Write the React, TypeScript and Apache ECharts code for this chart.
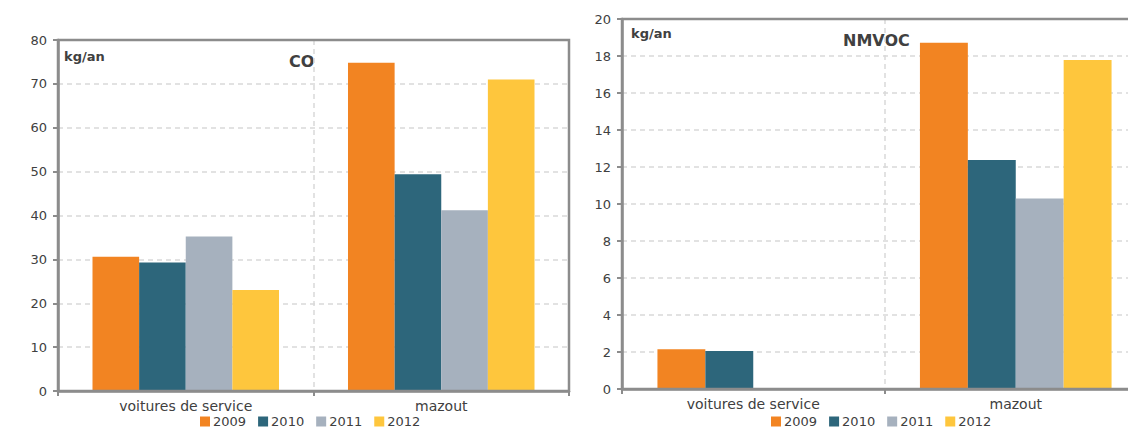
import React, { useEffect, useRef } from "react";
import * as echarts from "echarts";

const categories = ["voitures de service", "mazout"];
const years = ["2009", "2010", "2011", "2012"];
const colors = ["#F28422", "#2D667B", "#A6B1BE", "#FEC63D"];

// CO (kg/an) per year: [voitures de service, mazout]
const co2009 = [30.6, 74.8];
const co2010 = [29.3, 49.4];
const co2011 = [35.2, 41.2];
const co2012 = [23.0, 71.0];

// NMVOC (kg/an) per year
const nm2009 = [2.15, 18.72];
const nm2010 = [2.05, 12.38];
const nm2011 = [0, 10.3];
const nm2012 = [0, 17.78];

const coTicks = { min: 0, max: 80, interval: 10 };
const nmTicks = { min: 0, max: 20, interval: 2 };

const FONT = "DejaVu Sans";
const AXIS = "#8c8c8c";
const TXT = "#404040";

export default function App() {
  const ref = useRef<HTMLDivElement>(null);
  useEffect(() => {
    if (!ref.current) return;
    const chart = echarts.init(ref.current, undefined, { renderer: "svg" });
    const coData = [co2009, co2010, co2011, co2012];
    const nmData = [nm2009, nm2010, nm2011, nm2012];

    const xAxisBase = (gridIndex: number) => ({
      type: "category",
      gridIndex,
      data: categories,
      axisLine: { lineStyle: { color: AXIS, width: 2.5 } },
      axisTick: { show: true, length: 5, lineStyle: { color: AXIS, width: 2 } },
      axisLabel: { color: TXT, fontSize: 14, fontFamily: FONT, margin: 8 },
      splitLine: { show: true, lineStyle: { color: "#d9d9d9", type: [5, 4], width: 1.5 } },
    });
    const yAxisBase = (gridIndex: number, t: any) => ({
      type: "value",
      gridIndex,
      min: t.min,
      max: t.max,
      interval: t.interval,
      axisLine: { show: true, lineStyle: { color: AXIS, width: 2.5 } },
      axisTick: { show: true, length: 5, lineStyle: { color: AXIS, width: 2 } },
      axisLabel: { color: TXT, fontSize: 13, fontFamily: FONT, margin: 11 },
      splitLine: { show: true, lineStyle: { color: "#d9d9d9", type: [5, 4], width: 1.5 } },
    });

    const series: any[] = [];
    years.forEach((y, i) => {
      series.push({
        name: y,
        type: "bar",
        xAxisIndex: 0,
        yAxisIndex: 0,
        data: coData[i],
        itemStyle: { color: colors[i] },
        barGap: "0%",
        barCategoryGap: "27%",
      });
    });
    years.forEach((y, i) => {
      series.push({
        name: y,
        type: "bar",
        xAxisIndex: 1,
        yAxisIndex: 1,
        data: nmData[i],
        itemStyle: { color: colors[i] },
        barGap: "0%",
        barCategoryGap: "27%",
      });
    });

    const legendBase = {
      data: years,
      itemWidth: 10,
      itemHeight: 10,
      itemGap: 12,
      icon: "rect",
      textStyle: { color: TXT, fontSize: 13, fontFamily: FONT, padding: [0, 0, 0, -2] },
    };

    chart.setOption({
      animation: false,
      backgroundColor: "#ffffff",
      grid: [
        {
          left: 58, top: 40, width: 511, height: 351, z: 5,
          outerBoundsMode: "none",
          show: true, borderColor: AXIS, borderWidth: 2.5, backgroundColor: "transparent",
        },
        {
          left: 622, top: 19, width: 525, height: 370, z: 5,
          outerBoundsMode: "none",
          show: true, borderColor: AXIS, borderWidth: 2.5, backgroundColor: "transparent",
        },
      ],
      xAxis: [xAxisBase(0), xAxisBase(1)],
      yAxis: [yAxisBase(0, coTicks), yAxisBase(1, nmTicks)],
      legend: [
        { ...legendBase, left: 195, top: 410 },
        { ...legendBase, left: 766, top: 410 },
      ],
      series,
      graphic: [
        {
          type: "text", left: 64, top: 50,
          style: { text: "kg/an", fill: TXT, font: `bold 13px "${FONT}"` },
        },
        {
          type: "text", left: 289, top: 53,
          style: { text: "CO", fill: TXT, font: `bold 16px "${FONT}"` },
        },
        {
          type: "text", left: 631, top: 27,
          style: { text: "kg/an", fill: TXT, font: `bold 13px "${FONT}"` },
        },
        {
          type: "text", left: 843, top: 32,
          style: { text: "NMVOC", fill: TXT, font: `bold 16px "${FONT}"` },
        },
      ],
    });
    return () => chart.dispose();
  }, []);
  return (
    <div
      ref={ref}
      style={{ position: "fixed", left: 0, top: 0, width: 1128, height: 429, background: "#fff" }}
    />
  );
}
